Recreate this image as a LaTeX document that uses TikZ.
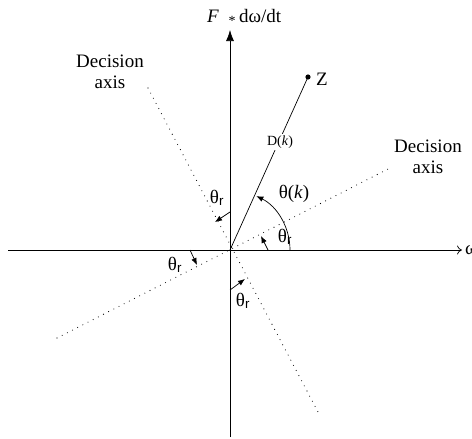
\documentclass[tikz,border=0pt]{standalone}
\usepackage{fontspec}
\setmainfont{Liberation Serif}
\setsansfont{Liberation Sans}
\usetikzlibrary{arrows.meta}
\newcommand{\thr}{θ\textsubscript{\sffamily r}}
\begin{document}
\begin{tikzpicture}[x=1pt,y=-1pt,
  axisline/.style={line width=0.7pt},
  decline/.style={line width=1.1pt, line cap=round, dash pattern=on 0pt off 5.8pt},
  angarrow/.style={line width=0.7pt,-{Latex[length=7pt,width=5.5pt]}},
  lab/.style={font=\fontsize{19}{21}\selectfont, inner sep=0pt},
  smalllab/.style={font=\fontsize{14}{16}\selectfont, inner sep=0pt}]
\useasboundingbox (0,0) rectangle (472,439);
% coordinates
\coordinate (O) at (230,250);
\coordinate (ytop) at (230,30);
\coordinate (ybot) at (230,437);
\coordinate (xl) at (8,250);
\coordinate (xr) at (462,250);
\coordinate (Z) at (308,77);
\coordinate (da1) at (57,338);
\coordinate (da2) at (390,168);
\coordinate (db1) at (148,88);
\coordinate (db2) at (318,412);
% axes
\draw[axisline,-{Latex[length=11pt,width=8pt]}] (ybot) -- (ytop);
\draw[axisline,-{To[length=5pt,width=9pt]}] (xl) -- (xr);
% decision axes
\draw[decline] (da1) -- (da2);
\draw[decline] (db1) -- (db2);
% vector
\draw[line width=0.7pt] (O) -- (Z);
\fill (Z) circle (2.6pt);
\node[lab,anchor=west] (zlab) at (316,79) {Z};
\node[smalllab,fill=white,inner sep=2pt] (dk) at (280,142) {D(\textit{k})};
% theta(k) arc
\draw[line width=0.7pt,-{Latex[length=7pt,width=5.5pt]}] (290,250) arc[start angle=0,end angle=-64,radius=60];
\node[lab] (thk) at (294,194) {θ(\textit{k})};
% theta_r arrows
\coordinate (a1s) at (230,212); \coordinate (a1e) at (215,222);
\coordinate (a2s) at (268,250); \coordinate (a2e) at (261,236);
\coordinate (a3s) at (190,250); \coordinate (a3e) at (197,265);
\coordinate (a4s) at (230,290); \coordinate (a4e) at (245,279);
\draw[angarrow] (a1s) -- (a1e);
\draw[angarrow] (a2s) -- (a2e);
\draw[angarrow] (a3s) -- (a3e);
\draw[angarrow] (a4s) -- (a4e);
\node[lab] (t1) at (217,198) {\thr};
\node[lab] (t2) at (285,237) {\thr};
\node[lab] (t3) at (175,265) {\thr};
\node[lab] (t4) at (243,301) {\thr};
% labels
\node[lab,align=center] (dl) at (110,72) {Decision\\axis};
\node[lab,align=center] (dr) at (428,157) {Decision\\axis};
\node[lab,anchor=west] (om) at (465,250) {ω};
\node[lab,anchor=base] (F) at (213,23) {\textit{F}};
\node[smalllab,anchor=base] (star) at (232,26) {*};
\node[lab,anchor=base west] (dw) at (239,23) {dω/dt};
\end{tikzpicture}
\end{document}
